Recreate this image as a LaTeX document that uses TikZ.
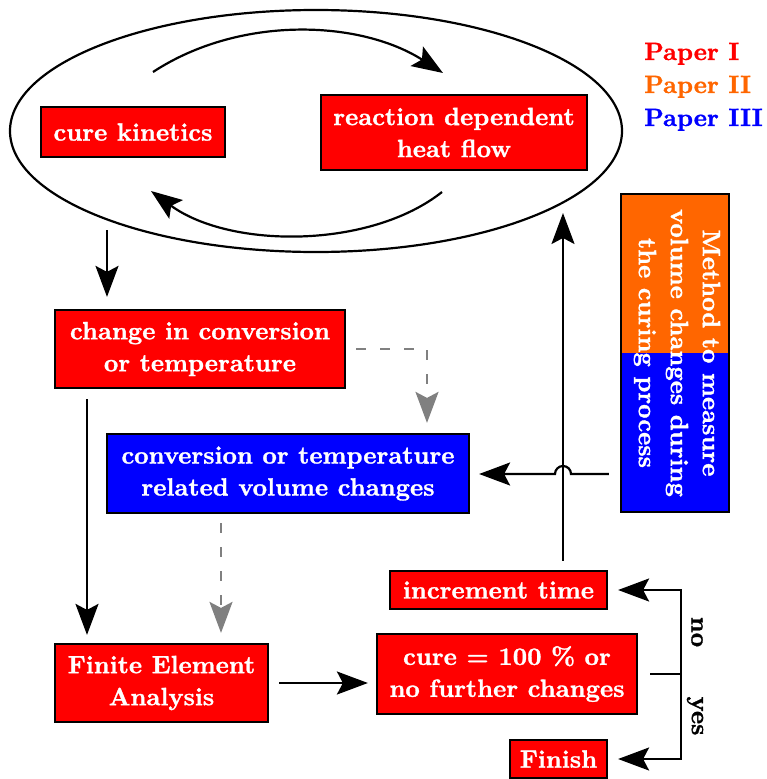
\documentclass[tikz,border=0pt]{standalone}
\usepackage{fontspec}
\setmainfont{lmroman10-regular.otf}[BoldFont=lmroman10-bold.otf, BoldFeatures={FakeBold=1.2}]
\usetikzlibrary{shapes.geometric,arrows.meta}
\definecolor{pred}{RGB}{255,0,0}
\definecolor{porange}{RGB}{255,102,0}
\definecolor{pblue}{RGB}{0,0,255}
\definecolor{pgray}{RGB}{128,128,128}
\begin{document}
\begin{tikzpicture}[x=1pt,y=-1pt,
  every node/.style={font=\fontsize{25}{32}\selectfont\bfseries},
  box/.style={draw=black, line width=2.2pt, text=white, align=center, inner sep=0pt},
  arr/.style={line width=2.2pt, -{Stealth[length=31pt,width=23pt,inset=6pt]}},
  garr/.style={line width=2.2pt, draw=pgray, dash pattern=on 10pt off 14pt, -{Stealth[length=31pt,width=23pt,inset=6pt]}},
  plain/.style={line width=2.2pt},
]
\useasboundingbox (0,0) rectangle (767,779);

% ellipse with the cure loop
\node[draw, ellipse, line width=2.2pt, minimum width=612pt, minimum height=242pt, inner sep=0pt] (ell) at (316,131) {};
\node[box, fill=pred, minimum width=184pt, minimum height=50pt] (ck) at (133,132) {cure kinetics};
\node[box, fill=pred, minimum width=266pt, minimum height=75pt] (rd) at (454,132.5) {reaction dependent\\heat flow};
\coordinate (t1) at (153,72); \coordinate (t2) at (443,73);
\draw[arr] (t1) .. controls (240,15) and (360,20) .. (t2);
\coordinate (b1) at (442,192); \coordinate (b2) at (151,191);
\draw[arr] (b1) .. controls (370,249) and (230,249) .. (b2);

% legend
\node[anchor=base west, text=pred, inner sep=0pt] (p1) at (644,60) {Paper I};
\node[anchor=base west, text=porange, inner sep=0pt] (p2) at (644,93) {Paper II};
\node[anchor=base west, text=pblue, inner sep=0pt] (p3) at (644,126) {Paper III};

% boxes
\node[box, fill=pred, minimum width=290pt, minimum height=78pt] (chg) at (200,349) {change in conversion\\or temperature};
\node[box, fill=pblue, minimum width=362pt, minimum height=79pt] (vol) at (288,473.5) {conversion or temperature\\related volume changes};
\node[box, fill=pred, minimum width=213pt, minimum height=78pt] (fea) at (161.5,683) {Finite Element\\Analysis};
\node[box, fill=pred, minimum width=260pt, minimum height=80pt] (cure) at (507,674) {cure = 100 \% or\\no further changes};
\node[box, fill=pred, minimum width=217pt, minimum height=38pt] (inc) at (498.5,590) {increment time};
\node[box, fill=pred, minimum width=97pt, minimum height=38pt] (fin) at (558.5,759) {Finish};

% method box
\node[draw, line width=2.2pt, minimum width=108pt, minimum height=318pt, inner sep=0pt,
  path picture={
    \fill[porange] (path picture bounding box.north west) rectangle (path picture bounding box.east);
    \fill[pblue] (path picture bounding box.west) rectangle (path picture bounding box.south east);
  }] (meas) at (675,353) {};
\node[rotate=-90, text=white, align=center, inner sep=0pt] (mt) at (677,353) {Method to measure\\volume changes during\\the curing process};

% connectors
\coordinate (e1) at (107,230);
\draw[arr, shorten >=12pt] (e1) -- (e1 |- chg.north);
\coordinate (c1) at ([xshift=-113pt]chg.south);
\draw[arr, shorten <=10pt, shorten >=8pt] (c1) -- (c1 |- fea.north);
\coordinate (v1) at ([xshift=139pt]vol.north);
\draw[garr, shorten <=10pt, shorten >=10pt] (chg.east) -| (v1);
\coordinate (v2) at ([xshift=-67pt]vol.south);
\draw[garr, shorten <=9pt, shorten >=10pt] (v2) -- (v2 |- fea.north);
\draw[arr, shorten <=10pt, shorten >=8pt] (fea.east) -- (fea.east -| cure.west);

\coordinate (vb) at ([xshift=64.5pt]inc.north);
\coordinate (vt) at (563,213);
\draw[arr, shorten <=9pt] (vb) -- (vt);
\coordinate (jc) at (563,474);
\coordinate (ms) at ([xshift=-11pt]meas.west);
\draw[arr, shorten >=9pt] (ms |- jc) -- ([xshift=8pt]jc) arc[start angle=0, end angle=-180, radius=8] -- (vol.east |- jc);

\coordinate (br) at (681,675);
\draw[plain, shorten <=12pt] (cure.east) -- (cure.east -| br);
\draw[arr, shorten >=10pt] (br) |- (inc.east);
\draw[arr, shorten >=10pt] (br) |- (fin.east);
\node[rotate=-90, inner sep=0pt] (no) at (697,632) {no};
\node[rotate=-90, inner sep=0pt] (yes) at (695,716) {yes};
\end{tikzpicture}
\end{document}
